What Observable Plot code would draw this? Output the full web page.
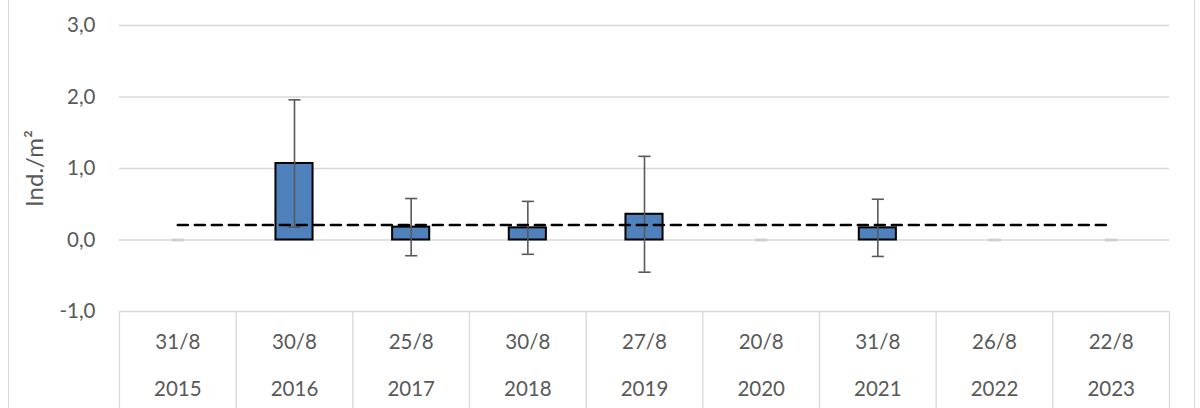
<!DOCTYPE html>
<html>
<head>
<meta charset="utf-8">
<script src="https://cdn.jsdelivr.net/npm/d3@7"></script>
<script src="https://cdn.jsdelivr.net/npm/@observablehq/plot@0.6"></script>
<style>
  body { margin: 0; background: #fff; }
  #wrap { position: relative; width: 1200px; height: 408px; overflow: hidden; }
  #frame { position: absolute; left: 8px; top: -4px; width: 1185px; height: 420px;
           border-left: 1.5px solid #d9d9d9; border-right: 1.5px solid #d9d9d9; pointer-events: none; }
</style>
</head>
<body>
<div id="wrap"><div id="frame"></div></div>
<script>
const dates  = ["31/8", "30/8", "25/8", "30/8", "27/8", "20/8", "31/8", "26/8", "22/8"];
const years  = ["2015", "2016", "2017", "2018", "2019", "2020", "2021", "2022", "2023"];
const values = [0, 1.07, 0.18, 0.17, 0.36, 0, 0.17, 0, 0];
const errors = [0, 0.89, 0.40, 0.37, 0.81, 0, 0.40, 0, 0];
const meanLine = [0.21, 0.21, 0.21, 0.21, 0.21, 0.21, 0.21, 0.21, 0.21];
const yTicks = [-1, 0, 1, 2, 3];
const yLabel = "Ind./m²";

const data = dates.map((d, i) => ({i, date: d, year: years[i], v: values[i], e: errors[i], m: meanLine[i]}));
const cx = d => d.i + 0.5;
const boundaries = d3.range(dates.length + 1);

const chart = Plot.plot({
  width: 1200,
  height: 408,
  marginLeft: 119,
  marginRight: 31,
  marginTop: 25,
  marginBottom: 97,
  style: { fontFamily: "Lato, 'Open Sans', sans-serif", fontSize: "20px", color: "#595959", background: "transparent", overflow: "visible" },
  x: { domain: [0, dates.length], axis: null },
  y: { domain: [-1, 3] },
  marks: [
    Plot.ruleY(yTicks, { stroke: "#d9d9d9", strokeWidth: 1.3 }),
    Plot.ruleX(boundaries, { y1: -1, y2: -2.5, stroke: "#d9d9d9", strokeWidth: 1.3 }),
    Plot.axisY({
      ticks: yTicks,
      tickFormat: d => d.toFixed(1).replace(".", ","),
      tickSize: 0,
      tickPadding: 24,
      label: null,
      fontSize: 20.5
    }),
    Plot.text([yLabel], { frameAnchor: "left", rotate: -90, dx: -84, text: d => d, fill: "#595959", fontSize: 24, textAnchor: "middle", lineAnchor: "middle" }),
    Plot.rectY(data.filter(d => d.v > 0), {
      x1: d => cx(d) - 0.159, x2: d => cx(d) + 0.159,
      y1: 0, y2: "v",
      fill: "#4f81bd", stroke: "#000", strokeWidth: 2
    }),
    Plot.ruleX(data, { x: cx, y1: d => d.v - d.e, y2: d => d.v + d.e, stroke: "#595959", strokeWidth: 1.6 }),
    Plot.link(data, { x1: d => cx(d) - 0.052, x2: d => cx(d) + 0.052, y1: d => d.v + d.e, y2: d => d.v + d.e,
      stroke: d => d.e === 0 ? "#cfcfcf" : "#595959", strokeWidth: d => d.e === 0 ? 2.5 : 1.6 }),
    Plot.link(data, { x1: d => cx(d) - 0.052, x2: d => cx(d) + 0.052, y1: d => d.v - d.e, y2: d => d.v - d.e,
      stroke: d => d.e === 0 ? "#cfcfcf" : "#595959", strokeWidth: d => d.e === 0 ? 2.5 : 1.6 }),
    Plot.line(data, { x: cx, y: "m", stroke: "#000", strokeWidth: 2.5, strokeDasharray: "10,7" }),
    Plot.text(data, { x: cx, y: -1, dy: 31, text: "date", fill: "#595959", fontSize: 20.5, lineAnchor: "middle" }),
    Plot.text(data, { x: cx, y: -1, dy: 78, text: "year", fill: "#595959", fontSize: 20.5, lineAnchor: "middle" })
  ]
});
document.getElementById("wrap").prepend(chart);
</script>
</body>
</html>
